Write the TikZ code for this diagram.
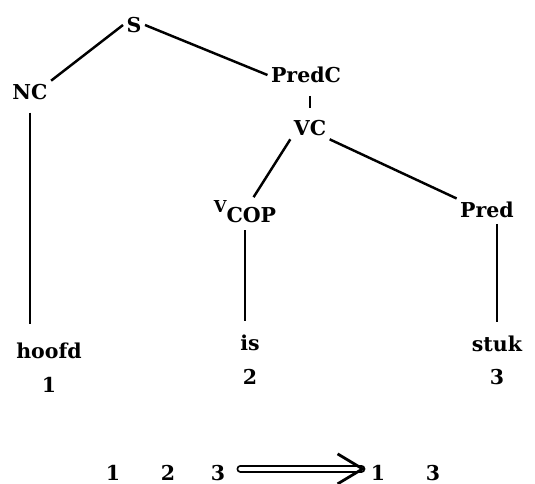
\documentclass[tikz,border=0pt]{standalone}
\usepackage{fontspec}
\setmainfont{DejaVu Serif}
\usetikzlibrary{arrows.meta}

\begin{document}
\begin{tikzpicture}[x=0.03cm, y=-0.03cm, line width=2.1pt,
	every node/.style={font=\fontsize{17.5}{20}\selectfont\bfseries, inner sep=2pt},
	leaf/.style={anchor=base}]
	\useasboundingbox (0,0) rectangle (535,484);
	\node (s) at (134,25) {S};
	\node (nc) at (30,92) {NC};
	\node (predc) at (306,75) {PredC};
	\node (vc) at (310,128) {VC};
	\node (vcop) at (245,212) {\raisebox{0.5em}{\fontsize{14}{15}\selectfont V}COP};
	\node (pred) at (487,210) {Pred};
	\node[leaf] (hoofd) at (49,358) {hoofd};
	\node[leaf] (n1) at (49,392) {1};
	\node[leaf] (is) at (250,350) {is};
	\node[leaf] (n2) at (250,384) {2};
	\node[leaf] (stuk) at (497,351) {stuk};
	\node[leaf] (n3) at (497,384) {3};
	\draw (s.west) -- (nc.north east);
	\draw (s.east) -- (predc.west);
	\draw[shorten <=8pt, shorten >=7pt] (vc.north |- predc.south) -- (vc.north);
	\draw (vc.south west) -- (vcop.60);
	\draw (vc.south east) -- (pred.north west);
	\draw[shorten <=8pt, shorten >=13pt] (nc.south) -- (nc.south |- hoofd.north);
	\draw[shorten <=3pt, shorten >=8pt] (vcop.south) -- (vcop.south |- is.north);
	\draw[shorten <=2pt, shorten >=8pt] (pred.south -| stuk.north) -- (stuk.north);
	\node[leaf] (b1) at (113,480) {1};
	\node[leaf] (b2) at (168,480) {2};
	\node[leaf] (b3) at (218,480) {3};
	\node[leaf] (c1) at (378,480) {1};
	\node[leaf] (c3) at (433,480) {3};
	\coordinate (tip) at ([xshift=-4pt, yshift=3pt]c1.west);
	\draw[double, double distance=3.5pt, line width=1.6pt, line cap=round, shorten <=10pt, shorten >=1pt] (b3.east |- tip) -- (tip);
	\draw[line width=2.4pt] ([shift={(-25,-15)}]tip) -- (tip) -- ([shift={(-25,15)}]tip);
\end{tikzpicture}
\end{document}
